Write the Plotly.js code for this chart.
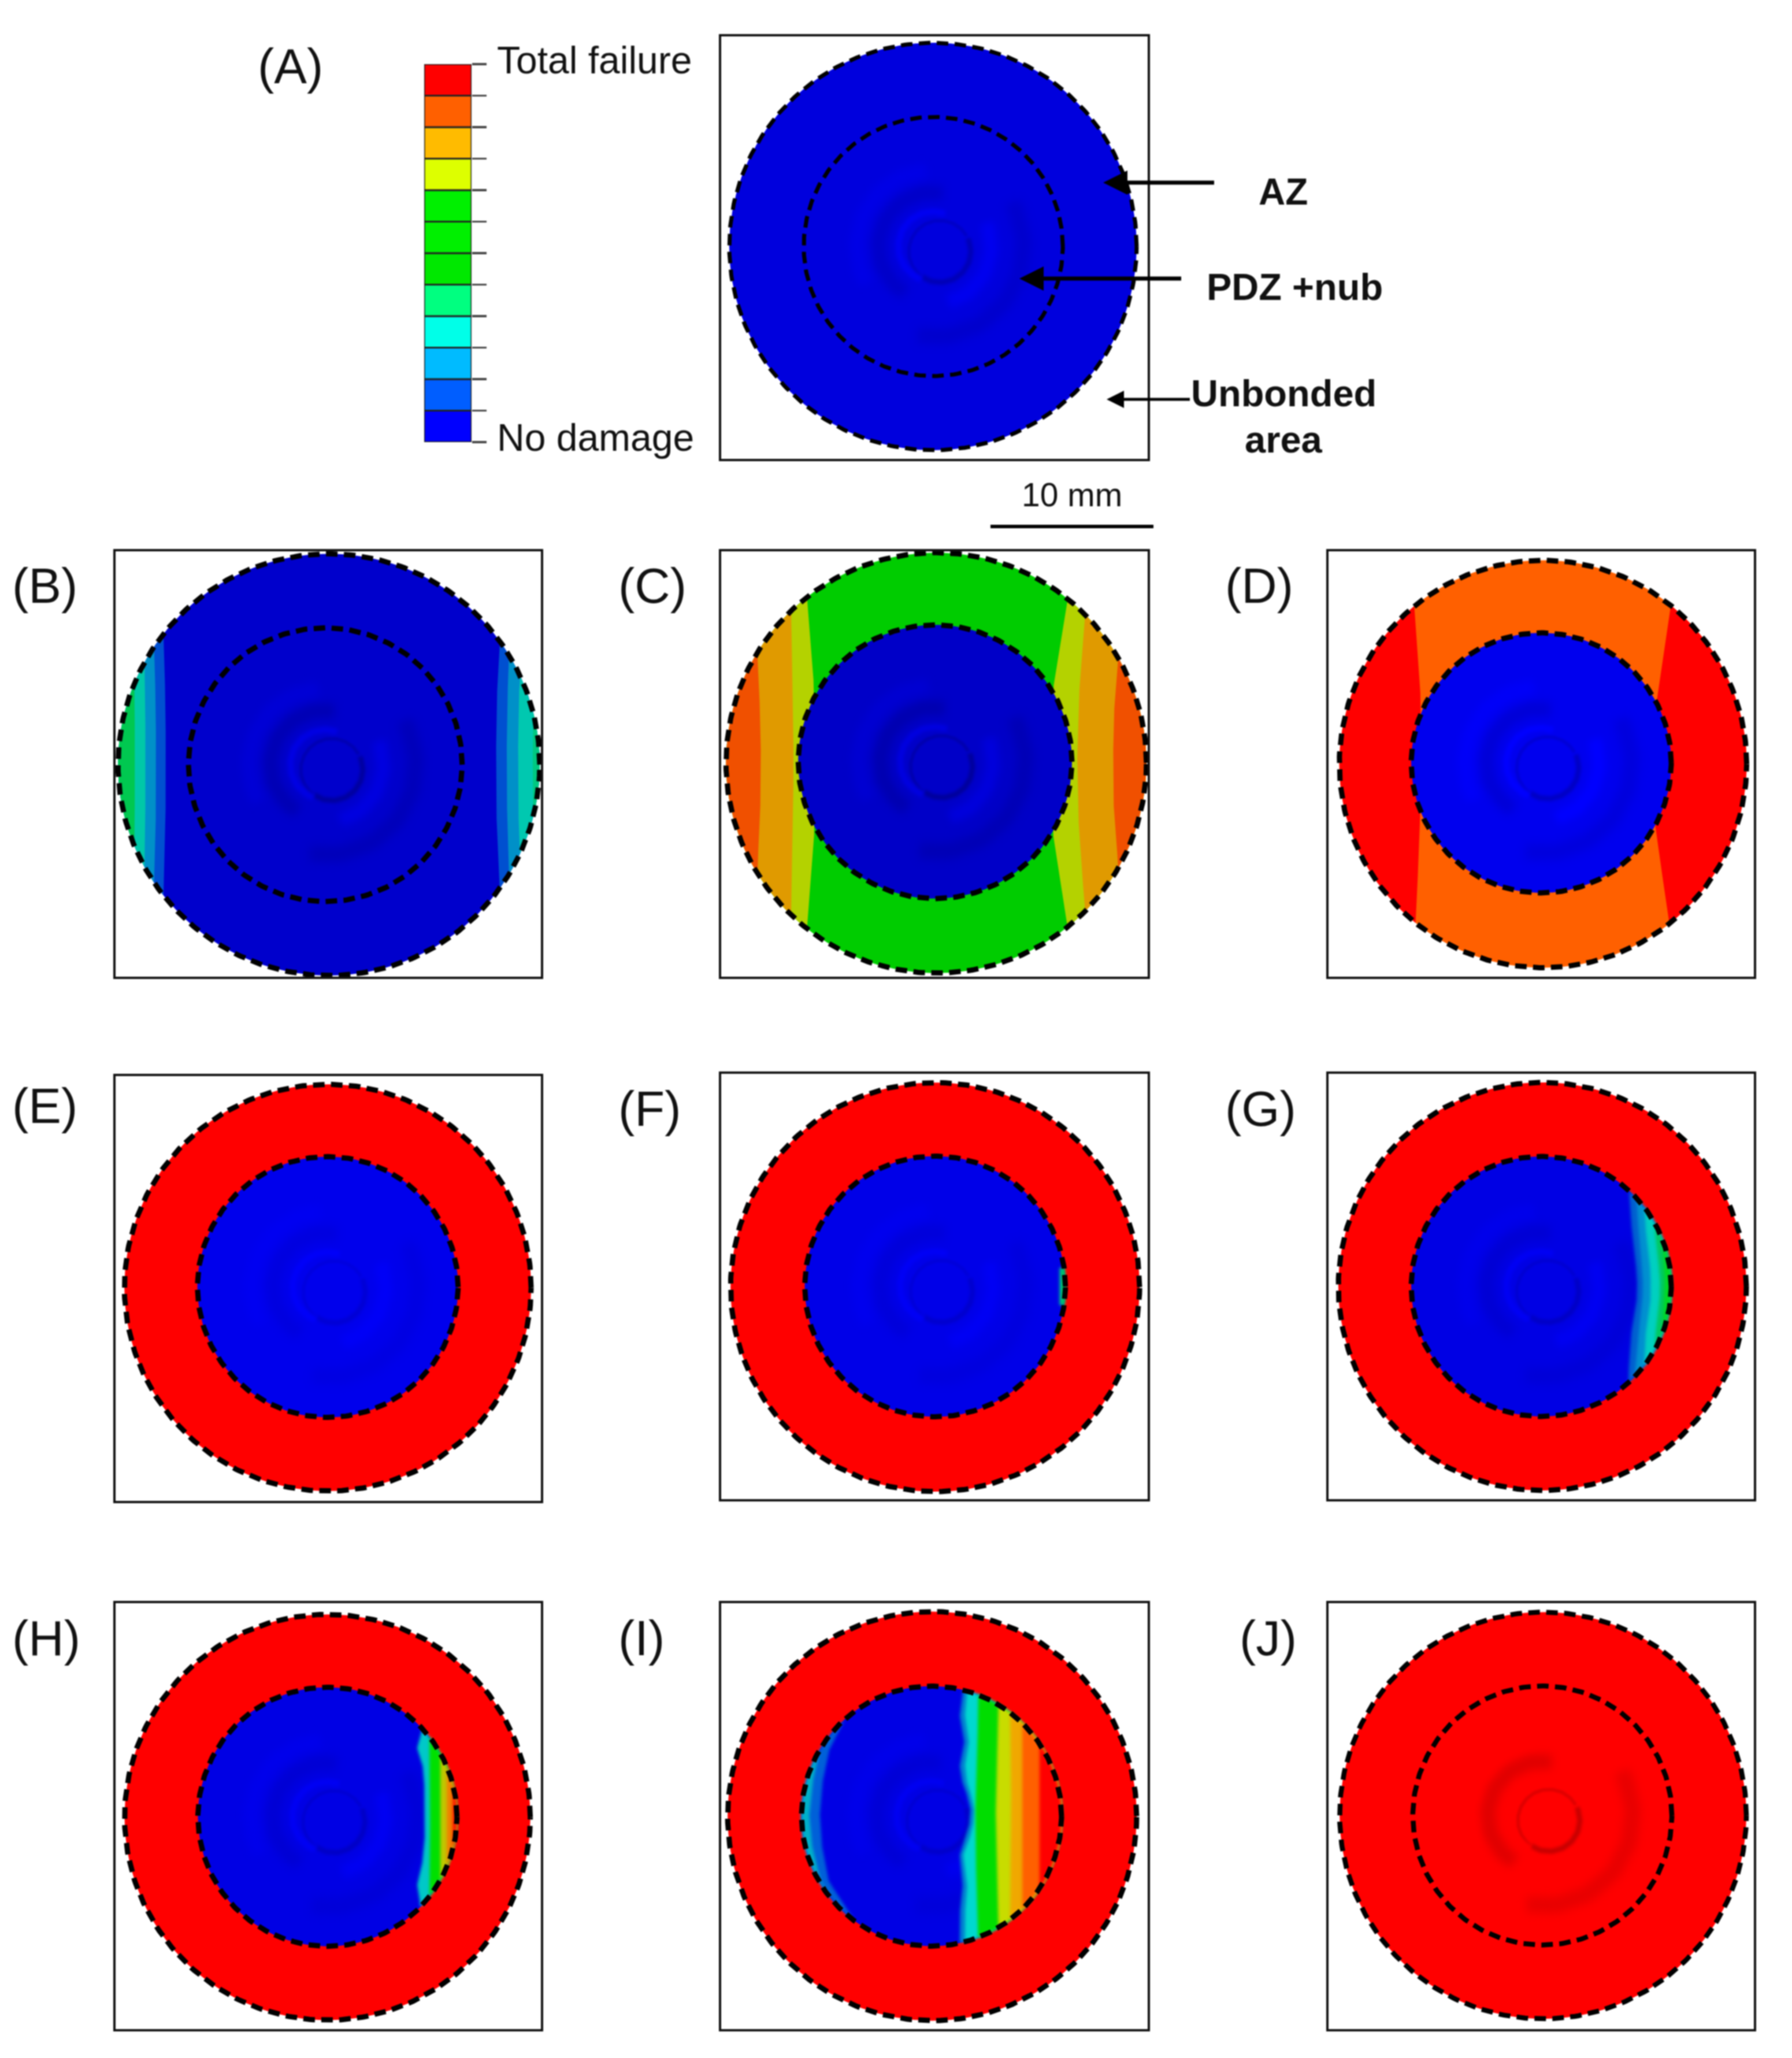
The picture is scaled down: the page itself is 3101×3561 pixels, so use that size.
<!DOCTYPE html>
<html><head><meta charset="utf-8">
<script src="https://cdn.plot.ly/plotly-3.0.1.min.js"></script>
<style>html,body{margin:0;padding:0;background:#fff}#plot{width:3101px;height:3561px;filter:blur(0.8px)}</style>
</head><body><div id="plot"></div>
<script>
// ---------- legend data ----------
const legendColors = ['#0000ff','#005eff','#00bbff','#00ffe8','#00ff80','#00e800','#00f000','#00f000','#ddff00','#ffbb00','#ff6000','#ff0000'];
const legendLevels = [0,1,2,3,4,5,6,7,8,9,10,11];
const legendTicks = [0,1,2,3,4,5,6,7,8,9,10,11,12];

// ---------- panel data (all lengths in mm, from the disc picture; y grows upward) ----------
const panelNames = ['A','B','C','D','E','F','G','H','I','J'];
const outerX  = [-0.09, 0.04, 0.11, 0.11,-0.03, 0.04, 0.07,-0.05,-0.14, 0.11];
const outerY  = [ 0.07,-0.04, 0.07, 0.00, 0.05,-0.04, 0.00,-0.07, 0.00, 0.04];
const outerR  = [12.50,12.94,12.90,12.50,12.48,12.55,12.52,12.45,12.55,12.48];
const innerX  = [-0.07,-0.18, 0.04, 0.00,-0.03, 0.04, 0.00,-0.05,-0.18, 0.07];
const innerY  = [ 0.07,-0.04, 0.14, 0.07, 0.09, 0.00, 0.00,-0.04, 0.00, 0.04];
const innerR  = [ 7.95, 8.40, 8.40, 7.98, 8.00, 8.00, 7.98, 7.95, 7.98, 7.95];
const ringColor  = ['#0000dd','#0000cc','#00cc00','#ff6000','#ff0000','#ff0000','#ff0000','#ff0000','#ff0000','#ff0000'];
const coreColor  = ['#0000dd','#0000cc','#0000c8','#0000ee','#0000ec','#0000e8','#0000e4','#0000e4','#0000e4','#ff0000'];
const dashWidth  = [7,9,9,9,9,9,9,9,9,8.5];
const arcStrength = [0.8,1,1,0.8,0.45,0.5,0.6,0.6,0.5,1];

// surface wrinkle arcs seen around the nub
const arcRadius = [1.90, 1.90, 2.15, 3.35, 3.55, 4.70, 5.55];
const arcDX     = [0.40, 0.40, 0.00, 0.00, 0.00, 0.00, 0.00];
const arcDY     = [-0.3, -0.3, 0.00, 0.00, 0.00, 0.00, 0.00];
const arcFrom   = [-125,   30,   70,   80,  -75,   95, -100];
const arcTo     = [  25,  235,  250,  240,   25,  210,   30];
const arcWidth  = [   9,    6,   11,   26,   24,   26,   28];
const arcShade  = [0.78, 0.88, 1.12, 0.88, 1.10, 1.05, 0.91];

// band boundaries: y levels and x positions
const ySoft = [-13,-8,-4,0,4,8,13];
const bandsB = [
  ['outer', 1,'#0050d0',ySoft,[10.6,10.5,10.3,10.25,10.3,10.5,10.6]],
  ['outer', 1,'#0090c8',ySoft,[11.3,11.1,10.95,10.9,10.95,11.1,11.3]],
  ['outer', 1,'#00c8b0',ySoft,[12.0,11.85,11.65,11.6,11.65,11.85,12.0]],
  ['outer', 1,'#00c880',ySoft,[12.7,12.6,12.55,12.5,12.55,12.6,12.7]],
  ['outer',-1,'#0050d0',ySoft,[-10.3,-10.15,-10.03,-10,-10.03,-10.15,-10.3]],
  ['outer',-1,'#0090c8',ySoft,[-10.9,-10.75,-10.63,-10.6,-10.63,-10.75,-10.9]],
  ['outer',-1,'#00c8a8',ySoft,[-11.5,-11.35,-11.27,-11.25,-11.27,-11.35,-11.5]],
  ['outer',-1,'#00c850',ySoft,[-12.1,-12,-11.92,-11.9,-11.92,-12,-12.1]]
];
const yC1 = [-13,-9.7,-4.7,0,4.7,9.7,13];
const yC2 = [-13,-8.7,-4,0,4,8.7,13];
const yC3 = [-13,-6,-3,0,3,6,13];
const bandsC = [
  ['outer', 1,'#b4d200',yC1,[8.5,8.0,7.2,7.0,7.2,8.0,8.5]],
  ['outer', 1,'#e09a00',yC2,[9.5,9.1,8.75,8.65,8.75,9.1,9.5]],
  ['outer', 1,'#f05000',yC3,[11.4,11.15,10.9,10.85,10.9,11.15,11.4]],
  ['outer',-1,'#b4d200',yC1,[-8.1,-7.9,-7.5,-7.4,-7.5,-7.9,-8.1]],
  ['outer',-1,'#e09a00',yC2,[-8.9,-8.9,-8.8,-8.75,-8.8,-8.9,-8.9]],
  ['outer',-1,'#f05000',yC3,[-11.1,-10.95,-10.8,-10.75,-10.8,-10.95,-11.1]]
];
const yD = [-13,-9.4,-4,0,4,9.4,13];
const bandsD = [
  ['outer', 1,'#ff0000',yD,[8.2,7.7,6.9,6.8,7.0,7.8,8.3]],
  ['outer',-1,'#ff0000',yD,[-8.0,-7.8,-7.55,-7.5,-7.5,-7.88,-8.0]]
];
const yF = [-1.3,-1.15,1.15,1.3];
const bandsF = [
  ['inner', 1,'#00a0a0',yF,[9,7.62,7.62,9]],
  ['inner', 1,'#00e040',yF,[9,7.78,7.78,9]]
];
const yG = [-13,-5.4,-3,-1,0,1,3,5.4,13];
const bandsG = [
  ['inner', 1,'#0060d0',yG,[5.35,5.35,5.5,5.85,5.9,5.85,5.6,5.4,5.4]],
  ['inner', 1,'#0090d0',yG,[5.75,5.75,5.95,6.2,6.25,6.2,6.0,5.85,5.85]],
  ['inner', 1,'#00d0c0',yG,[6.3,6.3,6.4,6.7,6.72,6.7,6.45,6.3,6.3]],
  ['inner', 1,'#00c860',yG,[6.9,6.9,7.0,7.25,7.3,7.25,7.0,6.9,6.9]],
  ['inner', 1,'#00d820',yG,[7.4,7.4,7.45,7.55,7.6,7.55,7.45,7.4,7.4]]
];
const yH = [-5.3,-4.2,-3,-1.5,0,1.5,3,4.2,5.2];
const bandsH = [
  ['inner', 1,'#00c8c8',yH,[5.69,5.5,5.8,5.97,5.97,5.97,5.88,5.5,5.79]],
  ['inner', 1,'#00e000',yH,[6.26,6.26,6.26,6.3,6.3,6.3,6.26,6.26,6.26]],
  ['inner', 1,'#c0c800',yH,[6.93,6.93,6.93,6.93,6.93,6.93,6.93,6.93,6.93]],
  ['inner', 1,'#f08000',yH,[7.32,7.32,7.32,7.32,7.32,7.32,7.32,7.32,7.32]],
  ['inner', 1,'#ff0000',yH,[7.7,7.7,7.7,7.7,7.7,7.7,7.7,7.7,7.7]]
];
const yI = [-7.6,-6,-4.38,-3.47,-2.39,-1.48,-0.58,0.33,1.23,1.95,3.04,4.5,6.1,7.74];
const yIs = [-8,-4,0,4,8];
const yIl = [-7.5,-6,-4,-2,0,2,4,6,7.5];
const bandsI = [
  ['inner', 1,'#0080d0',yI,[1.73,1.73,1.92,1.82,1.73,2.02,2.3,2.4,2.21,1.92,1.73,2.02,1.73,1.92]],
  ['inner', 1,'#00d8d0',yI,[2.05,2.05,2.2,2.1,1.95,2.3,2.55,2.65,2.45,2.2,2.05,2.3,2.05,2.2]],
  ['inner', 1,'#00dd00',yIs,[2.88,2.75,2.68,2.82,2.88]],
  ['inner', 1,'#c8dc00',yIs,[4.13,4.05,3.94,4.05,4.13]],
  ['inner', 1,'#f0a800',yIs,[4.8,4.85,4.9,4.85,4.8]],
  ['inner', 1,'#ff6000',yIs,[5.57,5.57,5.57,5.57,5.57]],
  ['inner', 1,'#ff0000',yIs,[6.63,6.63,6.63,6.63,6.63]],
  ['inner',-1,'#0060d8',yIl,[-4,-5,-6.3,-6.7,-6.85,-6.7,-6.3,-5.3,-4]],
  ['inner',-1,'#00b0c8',yIl,[-4.5,-5.6,-6.8,-7.3,-7.5,-7.3,-6.9,-5.6,-4.5]]
];
const panelBands = [[],bandsB,bandsC,bandsD,[],bandsF,bandsG,bandsH,bandsI,[]];

// ---------- layout geometry (page pixels) ----------
const pxPerMm = 28.2;
const frameLeft  = [1248, 200,1248,2299, 200,1248,2299, 200,1248,2299];
const frameRight = [1986, 936,1986,3035, 936,1986,3035, 936,1986,3035];
const frameTop   = [  63, 954, 954, 954,1862,1858,1858,2774,2774,2774];
const frameBot   = [ 794,1690,1690,1690,2597,2594,2594,3511,3511,3511];
const labelX     = [ 444,  19,1068,2118,  19,1068,2118,  19,1068,2143];
const labelY     = [ 115,1014,1014,1014,1913,1918,1918,2834,2834,2834];
const W = 3101, H = 3561;
const px = x => x / W, py = y => 1 - y / H;

// ---------- helpers ----------
function circle(cx, cy, r) {
  const xs = [], ys = [];
  for (let a = 0; a <= 360; a += 1) {
    xs.push(cx + r * Math.cos(a * Math.PI / 180));
    ys.push(cy + r * Math.sin(a * Math.PI / 180));
  }
  return {x: xs, y: ys};
}
function interp(ys, xs, y) {
  if (y <= ys[0]) return xs[0];
  for (let i = 1; i < ys.length; i++) if (y <= ys[i])
    return xs[i-1] + (xs[i]-xs[i-1]) * (y-ys[i-1]) / (ys[i]-ys[i-1]);
  return xs[xs.length-1];
}
function bandShape(cx, cy, R, side, ys, xs) {
  const left = [], arc = [];
  for (let y = -R; y <= R + 1e-6; y += R / 200) {
    const xc = side * Math.sqrt(Math.max(0, R*R - y*y));
    const xb = interp(ys, xs, y);
    if (side * (xc - xb) > 0) { left.push([cx + xb, cy + y]); arc.push([cx + xc, cy + y]); }
  }
  const pts = left.concat(arc.reverse());
  if (pts.length) pts.push(pts[0]);
  return {x: pts.map(p => p[0]), y: pts.map(p => p[1])};
}
function shade(hex, f) {
  const v = [1,3,5].map(i => parseInt(hex.substr(i,2),16));
  return 'rgb(' + v.map(c => Math.min(255, Math.round(c * f))).join(',') + ')';
}

// ---------- traces ----------
const traces = [];
traces.push({type:'bar', x: legendLevels.map(() => 0), y: legendLevels.map(() => 1), base: legendLevels, width: 1,
  marker:{color: legendColors, line:{color:'#222', width:3}}, xaxis:'x', yaxis:'y', hoverinfo:'skip', showlegend:false});

const layout = {
  width: W, height: H, margin:{l:0,r:0,t:0,b:0}, paper_bgcolor:'#fff', plot_bgcolor:'rgba(0,0,0,0)',
  showlegend:false, barmode:'overlay', hovermode:false,
  font:{family:'"Liberation Sans", Arial, sans-serif', color:'#111'},
  xaxis:{domain:[px(734),px(816)], range:[-0.5,0.5], visible:false, fixedrange:true},
  yaxis:{domain:[py(765),py(111)], range:[0,12], anchor:'x', side:'right', showgrid:false, zeroline:false, showline:false,
         ticks:'outside', ticklen:25, tickwidth:3.5, tickcolor:'#444', tickvals:legendTicks, showticklabels:false, fixedrange:true},
  annotations:[], shapes:[]
};

const fillTrace = (pts, color, xa, ya, uid) => ({type:'scatter', mode:'lines', x:pts.x, y:pts.y, fill:'toself', fillcolor:color,
  line:{width:0,color:color}, xaxis:xa, yaxis:ya, hoverinfo:'skip', showlegend:false, uid:uid});

const blurList = [];
panelNames.forEach((name, i) => {
  const n = i + 2, xa = 'x' + n, ya = 'y' + n;
  const wMm = (frameRight[i]-frameLeft[i]) / pxPerMm, hMm = (frameBot[i]-frameTop[i]) / pxPerMm;
  const axisBase = {showgrid:false, zeroline:false, showticklabels:false, ticks:'', showline:true, mirror:true,
                    linecolor:'#111', linewidth:4, fixedrange:true};
  layout['xaxis'+n] = Object.assign({}, axisBase, {domain:[px(frameLeft[i]),px(frameRight[i])], range:[-wMm/2,wMm/2], anchor:ya});
  layout['yaxis'+n] = Object.assign({}, axisBase, {domain:[py(frameBot[i]),py(frameTop[i])], range:[-hMm/2,hMm/2], anchor:xa});

  traces.push(fillTrace(circle(outerX[i],outerY[i],outerR[i]), ringColor[i], xa, ya));
  panelBands[i].filter(b => b[0]==='outer').forEach(b =>
    traces.push(fillTrace(bandShape(outerX[i],outerY[i],outerR[i],b[1],b[3],b[4]), b[2], xa, ya)));
  traces.push(fillTrace(circle(innerX[i],innerY[i],innerR[i]), coreColor[i], xa, ya));

  // wrinkle arcs around the nub
  arcRadius.forEach((r, k) => {
    const xs = [], ys = [];
    for (let a = arcFrom[k]; a <= arcTo[k]; a += 3) {
      xs.push(innerX[i] + arcDX[k] + r*Math.cos(a*Math.PI/180));
      ys.push(innerY[i] + arcDY[k] + r*Math.sin(a*Math.PI/180));
    }
    const uid = 'arc' + name + k;
    blurList.push([uid, arcWidth[k] / 3.5]);
    traces.push({type:'scatter', mode:'lines', x:xs, y:ys, uid:uid,
      line:{width:arcWidth[k], color:shade(coreColor[i], 1 + (arcShade[k]-1)*arcStrength[i])},
      xaxis:xa, yaxis:ya, hoverinfo:'skip', showlegend:false});
  });

  panelBands[i].filter(b => b[0]==='inner').forEach((b, k) => {
    const uid = 'soft' + name + k;
    blurList.push([uid, 2.5]);
    traces.push(fillTrace(bandShape(innerX[i],innerY[i],innerR[i],b[1],b[3],b[4]), b[2], xa, ya, uid));
  });

  [[outerX[i],outerY[i],outerR[i]],[innerX[i],innerY[i],innerR[i]]].forEach(c => {
    const p = circle(c[0],c[1],c[2]);
    traces.push({type:'scatter', mode:'lines', x:p.x, y:p.y, cliponaxis:false,
      line:{color:'#000', width:dashWidth[i], dash:'20px,11px'}, xaxis:xa, yaxis:ya, hoverinfo:'skip', showlegend:false});
  });

  layout.annotations.push({xref:'paper', yref:'paper', x:px(labelX[i]), y:py(labelY[i]), text:'('+name+')',
    showarrow:false, xanchor:'left', yanchor:'middle', font:{size:85, color:'#111'}});
});

const texts = [
  ['Total failure', 858, 104, 66, 'left'],
  ['No damage', 858, 757, 66, 'left'],
  ['<b>AZ</b>', 2220, 332, 64, 'center'],
  ['<b>PDZ +nub</b>', 2240, 496, 65, 'center'],
  ['<b>Unbonded</b>', 2221, 680, 65, 'center'],
  ['<b>area</b>', 2221, 760, 65, 'center'],
  ['10 mm', 1855, 856, 57, 'center']
];
texts.forEach(t => layout.annotations.push({xref:'paper', yref:'paper', x:px(t[1]), y:py(t[2]), text:t[0],
  showarrow:false, xanchor:t[4], yanchor:'middle', font:{size:t[3], color:'#111'}}));

const arrows = [[1909,316,2104,7],[1764,482,2047,7],[1915,691,2062,5]];
arrows.forEach(a => layout.annotations.push({xref:'paper', yref:'paper', x:px(a[0]), y:py(a[1]), ax:a[2]-a[0], ay:0,
  showarrow:true, arrowhead:2, arrowsize:1.2, arrowwidth:a[3], arrowcolor:'#000', standoff:0}));

layout.shapes.push({type:'line', xref:'paper', yref:'paper', x0:px(1714), x1:px(1996), y0:py(911), y1:py(911), line:{color:'#000', width:6}});

Plotly.newPlot('plot', traces, layout, {staticPlot:true, displayModeBar:false}).then(() => {
  blurList.forEach(b => {
    document.querySelectorAll('g.trace' + b[0]).forEach(g => { g.style.filter = 'blur(' + b[1] + 'px)'; });
  });
});
</script></body></html>
